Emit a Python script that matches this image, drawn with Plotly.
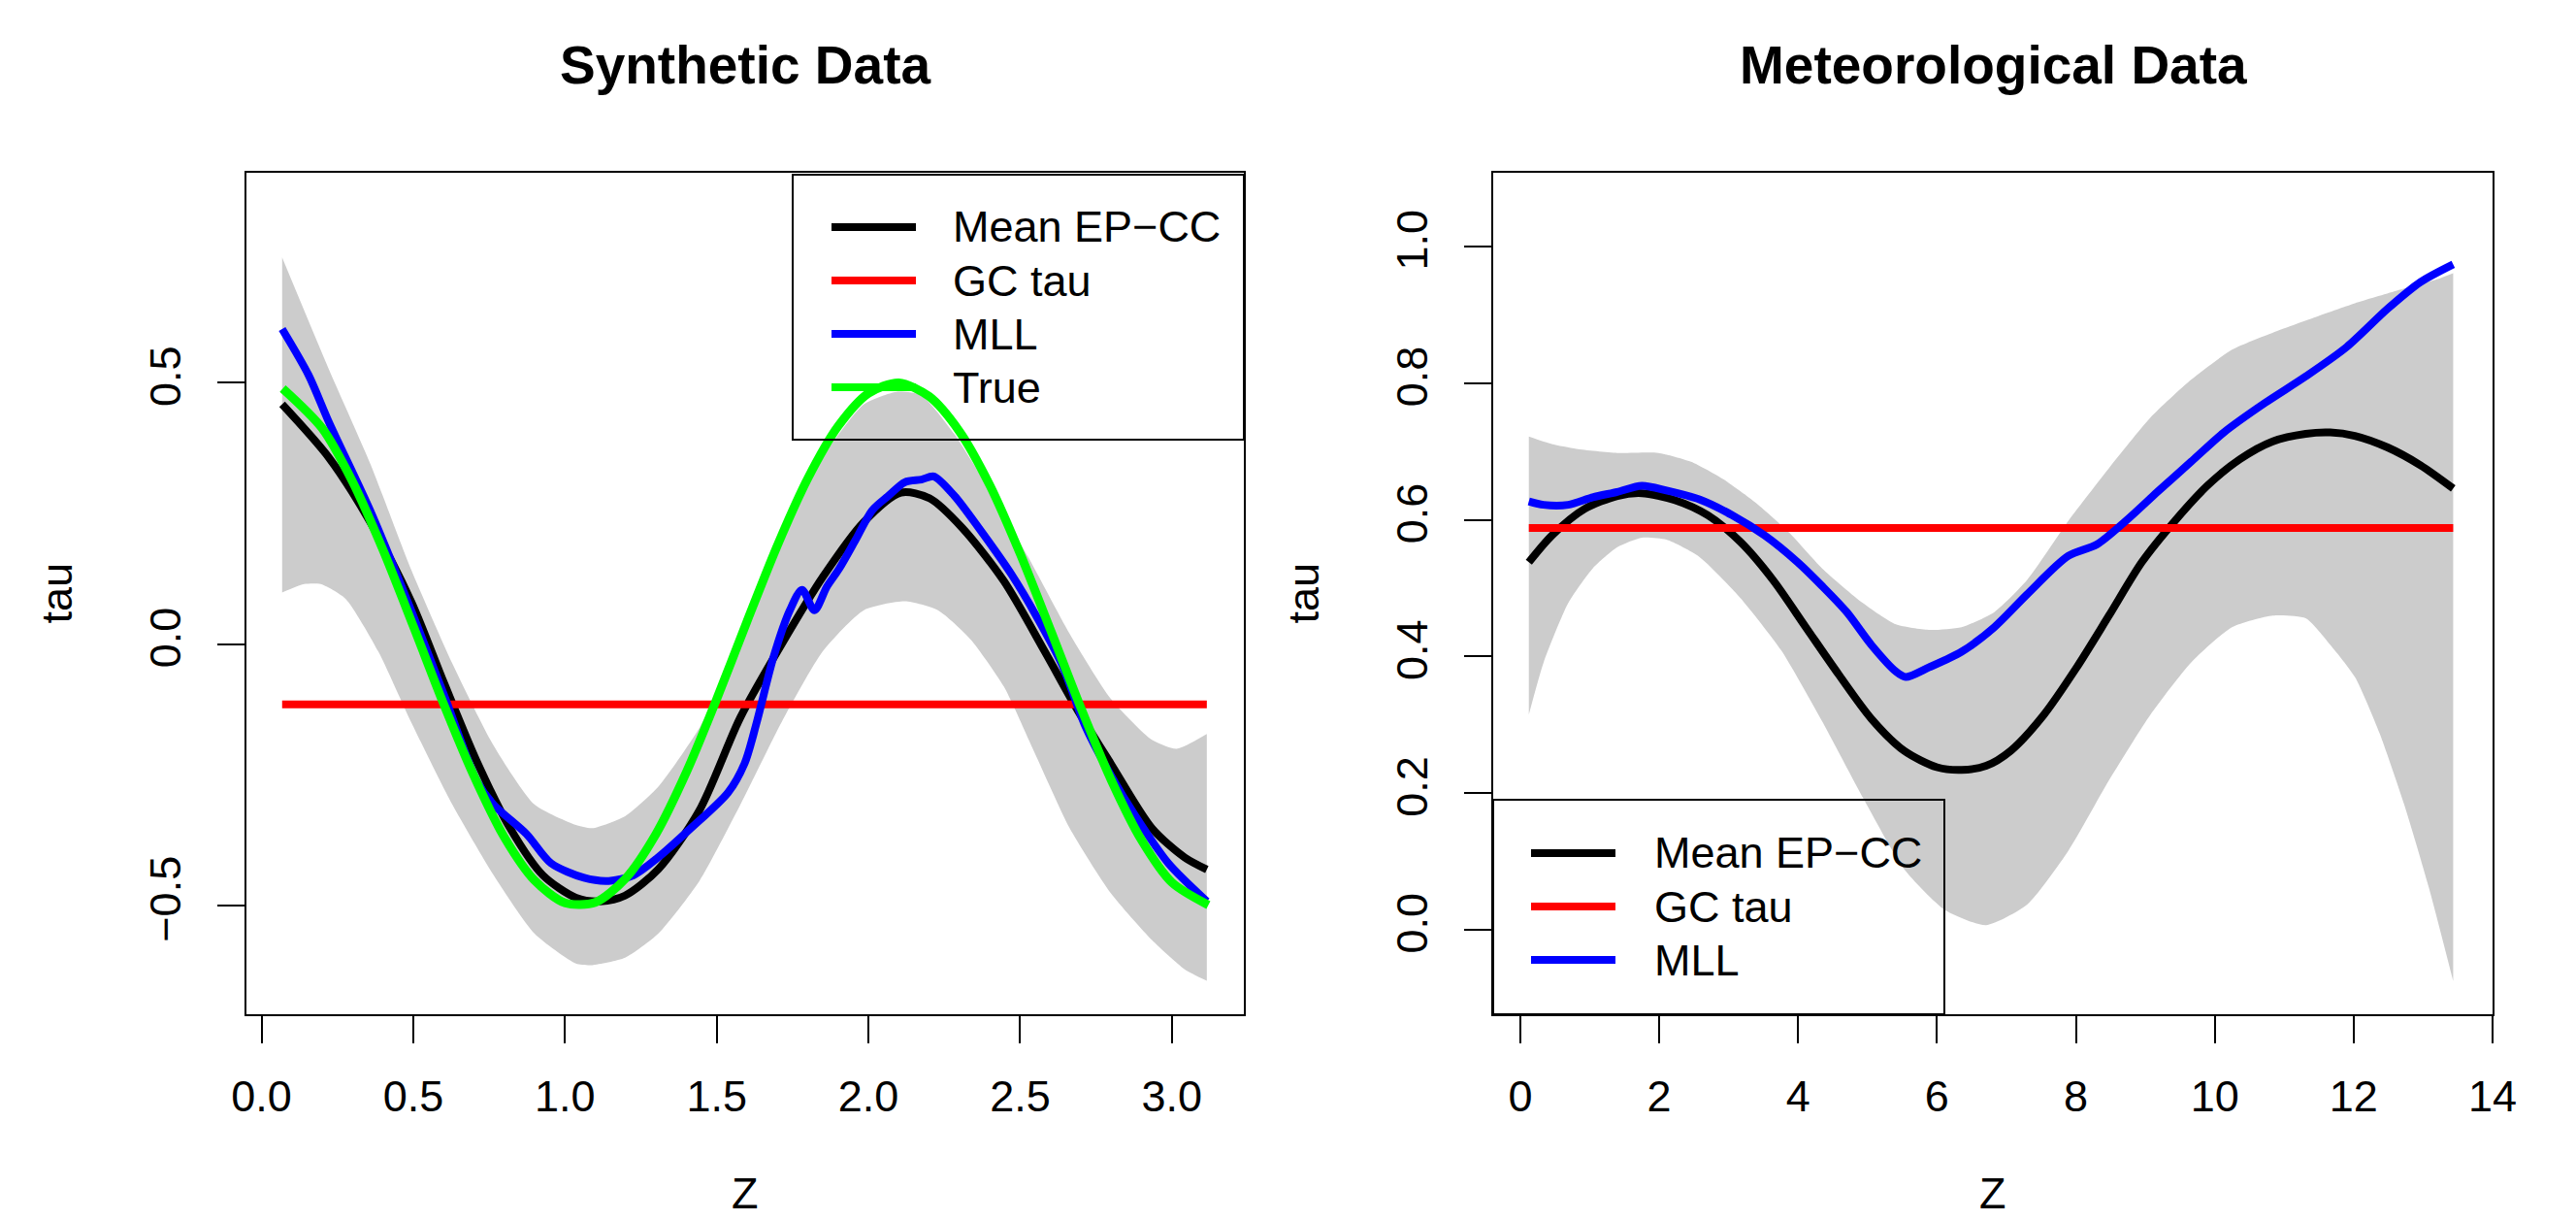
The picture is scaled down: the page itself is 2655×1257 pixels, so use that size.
import plotly.graph_objects as go

W, H = 2655, 1257

# ---------------- Data: Synthetic ----------------
syn_mean_x = [0.068, 0.222, 0.358, 0.493, 0.602, 0.710, 0.819, 0.927, 1.036, 1.117, 1.198, 1.307, 1.443,
              1.578, 1.714, 1.849, 1.985, 2.107, 2.202, 2.310, 2.446, 2.581, 2.690, 2.798, 2.934, 3.042, 3.115]
syn_mean_y = [0.459, 0.357, 0.234, 0.082, -0.075, -0.225, -0.352, -0.442, -0.485, -0.492, -0.481, -0.431, -0.318,
              -0.140, 0.000, 0.128, 0.234, 0.290, 0.279, 0.222, 0.121, -0.014, -0.127, -0.228, -0.352, -0.408, -0.431]

syn_mll_x = [0.068, 0.155, 0.222, 0.358, 0.493, 0.602, 0.710, 0.765, 0.873, 0.954, 1.063, 1.144, 1.226, 1.307,
             1.415, 1.537, 1.592, 1.632, 1.687, 1.741, 1.781, 1.822, 1.863, 1.903, 1.958, 2.012, 2.066, 2.120,
             2.175, 2.215, 2.283, 2.364, 2.473, 2.554, 2.636, 2.717, 2.798, 2.880, 2.988, 3.115]
syn_mll_y = [0.603, 0.515, 0.425, 0.256, 0.065, -0.098, -0.262, -0.307, -0.363, -0.419, -0.447, -0.453, -0.442,
             -0.408, -0.352, -0.284, -0.228, -0.149, -0.025, 0.065, 0.104, 0.065, 0.110, 0.144, 0.200, 0.256,
             0.284, 0.310, 0.315, 0.321, 0.284, 0.222, 0.132, 0.053, -0.037, -0.160, -0.250, -0.329, -0.419, -0.492]

syn_true_x = [0.07, 0.2, 0.3, 0.4, 0.5, 0.6, 0.7, 0.8, 0.9, 1.0, 1.1, 1.2, 1.3, 1.4, 1.5, 1.6, 1.7, 1.8, 1.9,
              2.0, 2.1, 2.2, 2.3, 2.4, 2.5, 2.6, 2.7, 2.8, 2.9, 3.0, 3.12]
syn_true_y = [0.489, 0.413, 0.311, 0.181, 0.035, -0.114, -0.252, -0.369, -0.452, -0.495, -0.494, -0.448, -0.363,
              -0.245, -0.105, 0.044, 0.189, 0.317, 0.417, 0.480, 0.500, 0.474, 0.407, 0.304, 0.173, 0.027,
              -0.122, -0.260, -0.375, -0.456, -0.499]

syn_gc_x = [0.068, 3.115]
syn_gc_y = [-0.115, -0.115]

syn_up_x = [0.068, 0.222, 0.358, 0.493, 0.629, 0.765, 0.900, 1.036, 1.090, 1.198, 1.307, 1.443, 1.578, 1.714,
            1.849, 1.985, 2.093, 2.175, 2.283, 2.392, 2.527, 2.663, 2.798, 2.934, 3.015, 3.115]
syn_up_y = [0.740, 0.526, 0.346, 0.143, -0.037, -0.194, -0.307, -0.346, -0.352, -0.329, -0.273, -0.160, -0.003,
            0.189, 0.357, 0.459, 0.483, 0.476, 0.402, 0.301, 0.166, 0.020, -0.104, -0.183, -0.200, -0.172]
syn_lo_x = [0.068, 0.141, 0.195, 0.277, 0.385, 0.493, 0.629, 0.765, 0.900, 1.036, 1.090, 1.198, 1.307, 1.443,
            1.578, 1.714, 1.849, 1.985, 2.120, 2.229, 2.337, 2.446, 2.554, 2.663, 2.798, 2.934, 3.042, 3.115]
syn_lo_y = [0.099, 0.115, 0.115, 0.087, -0.014, -0.149, -0.307, -0.442, -0.554, -0.611, -0.614, -0.600, -0.554,
            -0.453, -0.307, -0.149, -0.014, 0.065, 0.082, 0.065, 0.009, -0.081, -0.216, -0.352, -0.476, -0.566,
            -0.622, -0.644]

# ---------------- Data: Meteorological ----------------
met_mean_x = [0.123, 0.453, 0.925, 1.397, 1.751, 2.223, 2.695, 3.167, 3.639, 4.111, 4.583, 5.055, 5.527, 5.999,
              6.353, 6.707, 7.061, 7.533, 8.005, 8.477, 8.949, 9.421, 9.893, 10.365, 10.837, 11.309, 11.663,
              12.017, 12.489, 12.961, 13.433]
met_mean_y = [0.538, 0.577, 0.616, 0.635, 0.639, 0.629, 0.607, 0.568, 0.512, 0.443, 0.374, 0.309, 0.262, 0.238,
              0.234, 0.240, 0.262, 0.314, 0.383, 0.460, 0.538, 0.598, 0.650, 0.689, 0.715, 0.726, 0.728, 0.723,
              0.706, 0.680, 0.646]

met_mll_x = [0.123, 0.335, 0.689, 1.043, 1.397, 1.751, 2.105, 2.577, 3.049, 3.521, 3.993, 4.347, 4.701, 5.055,
             5.409, 5.551, 5.882, 6.354, 6.826, 7.298, 7.888, 8.301, 8.714, 9.186, 9.658, 10.130, 10.720, 11.310,
             11.900, 12.490, 12.962, 13.433]
met_mll_y = [0.627, 0.622, 0.622, 0.633, 0.641, 0.650, 0.643, 0.630, 0.607, 0.577, 0.538, 0.503, 0.465, 0.417,
             0.378, 0.370, 0.384, 0.407, 0.443, 0.491, 0.547, 0.564, 0.598, 0.642, 0.685, 0.728, 0.771, 0.810,
             0.853, 0.909, 0.948, 0.974]

met_gc_x = [0.123, 13.433]
met_gc_y = [0.588, 0.588]

met_up_x = [0.123, 0.453, 0.807, 1.397, 1.987, 2.459, 2.931, 3.403, 3.875, 4.347, 4.937, 5.409, 5.882, 6.354,
            6.826, 7.298, 7.888, 8.478, 9.068, 9.658, 10.248, 10.838, 11.428, 12.018, 12.608, 13.198, 13.433]
met_up_y = [0.722, 0.711, 0.704, 0.698, 0.698, 0.685, 0.659, 0.624, 0.581, 0.529, 0.478, 0.447, 0.439, 0.443,
            0.465, 0.512, 0.598, 0.676, 0.749, 0.805, 0.849, 0.874, 0.896, 0.917, 0.935, 0.952, 0.961]
met_lo_x = [0.123, 0.335, 0.689, 1.043, 1.397, 1.751, 2.105, 2.577, 3.167, 3.757, 4.347, 4.937, 5.527, 6.117,
            6.707, 7.298, 7.888, 8.478, 9.068, 9.658, 10.248, 10.838, 11.310, 11.664, 12.018, 12.372, 12.726,
            13.080, 13.433]
met_lo_y = [0.315, 0.391, 0.478, 0.529, 0.560, 0.574, 0.571, 0.546, 0.486, 0.409, 0.305, 0.193, 0.089, 0.029,
            0.007, 0.037, 0.115, 0.219, 0.314, 0.391, 0.443, 0.460, 0.456, 0.417, 0.370, 0.288, 0.184, 0.063,
            -0.075]

# ticks
syn_xticks = [0.0, 0.5, 1.0, 1.5, 2.0, 2.5, 3.0]
syn_xlabels = ["0.0", "0.5", "1.0", "1.5", "2.0", "2.5", "3.0"]
syn_yticks = [-0.5, 0.0, 0.5]
syn_ylabels = ["\u22120.5", "0.0", "0.5"]
met_xticks = [0, 2, 4, 6, 8, 10, 12, 14]
met_xlabels = ["0", "2", "4", "6", "8", "10", "12", "14"]
met_yticks = [0.0, 0.2, 0.4, 0.6, 0.8, 1.0]
met_ylabels = ["0.0", "0.2", "0.4", "0.6", "0.8", "1.0"]

titles = ["Synthetic Data", "Meteorological Data"]
syn_legend = ["Mean EP\u2212CC", "GC tau", "MLL", "True"]
syn_legend_colors = ["#000000", "#FF0000", "#0000FF", "#00FF00"]
met_legend = ["Mean EP\u2212CC", "GC tau", "MLL"]
met_legend_colors = ["#000000", "#FF0000", "#0000FF"]

FONT = "Liberation Sans, Arial, Helvetica, sans-serif"
GRAY = "#CCCCCC"
LW = 8

fig = go.Figure()


def band(xa, ya, up_x, up_y, lo_x, lo_y):
    fig.add_trace(go.Scatter(x=lo_x, y=lo_y, mode="lines", line=dict(width=0, color=GRAY, shape="spline",
                                                                     smoothing=0.6),
                             xaxis=xa, yaxis=ya, showlegend=False, hoverinfo="skip"))
    fig.add_trace(go.Scatter(x=up_x, y=up_y, mode="lines", fill="tonexty", fillcolor=GRAY,
                             line=dict(width=0, color=GRAY, shape="spline", smoothing=0.6),
                             xaxis=xa, yaxis=ya, showlegend=False, hoverinfo="skip"))


def curve(xa, ya, x, y, color, w=LW):
    fig.add_trace(go.Scatter(x=x, y=y, mode="lines", line=dict(color=color, width=w, shape="spline",
                                                               smoothing=0.8),
                             xaxis=xa, yaxis=ya, showlegend=False))


band("x", "y", syn_up_x, syn_up_y, syn_lo_x, syn_lo_y)
curve("x", "y", syn_mean_x, syn_mean_y, "#000000")
curve("x", "y", syn_gc_x, syn_gc_y, "#FF0000")
curve("x", "y", syn_mll_x, syn_mll_y, "#0000FF")
curve("x", "y", syn_true_x, syn_true_y, "#00FF00", 9)

band("x2", "y2", met_up_x, met_up_y, met_lo_x, met_lo_y)
curve("x2", "y2", met_mean_x, met_mean_y, "#000000")
curve("x2", "y2", met_gc_x, met_gc_y, "#FF0000")
curve("x2", "y2", met_mll_x, met_mll_y, "#0000FF")

# the page body adds an 8 px offset; compensate so screen positions match
OFF = 8


def px(v):
    return (v - OFF) / W


def py(v):
    return 1 - (v - OFF) / H


L1, R1, L2, R2, T, B = 254, 1282, 1539, 2569, 178, 1045

axis_common = dict(showline=True, linecolor="black", linewidth=2, mirror=True, ticks="outside",
                   ticklen=28, tickwidth=2, tickcolor="black", showgrid=False, zeroline=False,
                   automargin=False, tickfont=dict(family=FONT, size=45, color="black"))

fig.update_layout(
    width=W, height=H, margin=dict(l=0, r=0, t=0, b=0, pad=0, autoexpand=False),
    paper_bgcolor="white", plot_bgcolor="white",
    xaxis=dict(domain=[px(L1), px(R1)], range=[-0.0496, 3.237], tickvals=syn_xticks, ticktext=syn_xlabels,
               anchor="y", ticklabelstandoff=16, **axis_common),
    yaxis=dict(domain=[py(B), py(T)], range=[-0.708, 0.902], tickvals=syn_yticks, ticktext=syn_ylabels,
               tickangle=-90, anchor="x", ticklabelstandoff=20, **axis_common),
    xaxis2=dict(domain=[px(L2), px(R2)], range=[-0.39, 14.0], tickvals=met_xticks, ticktext=met_xlabels,
                anchor="y2", ticklabelstandoff=16, **axis_common),
    yaxis2=dict(domain=[py(B), py(T)], range=[-0.1235, 1.108], tickvals=met_yticks, ticktext=met_ylabels,
                tickangle=-90, anchor="x2", ticklabelstandoff=20, **axis_common),
    showlegend=False,
)

ann = []
shapes = []
# titles
for t, (l, r) in zip(titles, [(L1, R1), (L2, R2)]):
    ann.append(dict(text="<b>%s</b>" % t, x=px((l + r) / 2), y=py(67), xref="paper", yref="paper",
                    xanchor="center", yanchor="middle", showarrow=False,
                    font=dict(family=FONT, size=55, color="black")))
    ann.append(dict(text="Z", x=px((l + r) / 2), y=py(1257), xref="paper", yref="paper",
                    xanchor="center", yanchor="bottom", showarrow=False,
                    font=dict(family=FONT, size=45, color="black")))
    ann.append(dict(text="tau", x=px(l - 196), y=py((T + B) / 2), xref="paper", yref="paper",
                    xanchor="center", yanchor="middle", showarrow=False, textangle=-90,
                    font=dict(family=FONT, size=45, color="black")))


def legend(box, line_x0, line_x1, text_x, ys, labels, colors):
    x0, y0, x1, y1 = box
    shapes.append(dict(type="rect", xref="paper", yref="paper", x0=px(x0), x1=px(x1), y0=py(y1), y1=py(y0),
                       line=dict(color="black", width=2), fillcolor="rgba(0,0,0,0)", layer="above"))
    for yy, lab, col in zip(ys, labels, colors):
        shapes.append(dict(type="line", xref="paper", yref="paper", x0=px(line_x0), x1=px(line_x1),
                           y0=py(yy), y1=py(yy), line=dict(color=col, width=LW), layer="above"))
        ann.append(dict(text=lab, x=px(text_x), y=py(yy), xref="paper", yref="paper", xanchor="left",
                        yanchor="middle", showarrow=False, font=dict(family=FONT, size=45, color="black")))


legend((817, 180, 1282, 453), 857, 944, 980, [234, 289, 344, 399], syn_legend, syn_legend_colors)
legend((1539, 824, 2004, 1045), 1578, 1665, 1703, [879, 934, 989], met_legend, met_legend_colors)

fig.update_layout(annotations=ann, shapes=shapes)
fig.write_html("out.html")
